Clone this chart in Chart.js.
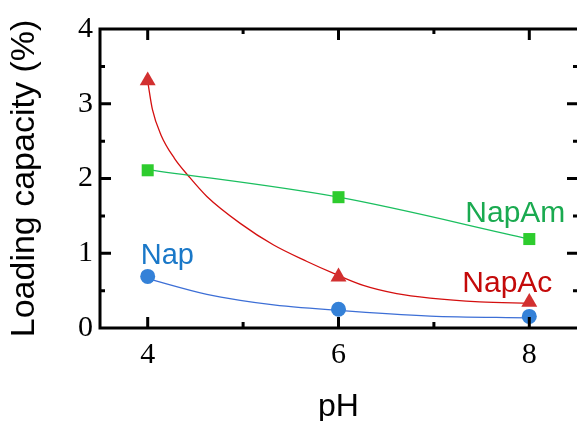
<!DOCTYPE html>
<html>
<head>
<meta charset="utf-8">
<script src="https://cdn.jsdelivr.net/npm/chart.js@4"></script>
<style>
  html, body { margin: 0; padding: 0; background: #ffffff; }
  #wrap { width: 577px; height: 421px; }
</style>
</head>
<body>
<div id="wrap"><canvas id="chart" width="577" height="421"></canvas></div>
<script>
// measured points (pH 4, 6, 8)
const phValues = [4, 6, 8];
const napValues = [0.69, 0.25, 0.155];
const napAmValues = [2.11, 1.75, 1.19];
const napAcValues = [3.31, 0.685, 0.345];

// fitted curves
const napFitX = [4.0, 4.62, 4.97, 5.32, 6.0, 6.96, 8.0];
const napFitY = [0.66, 0.45, 0.37, 0.31, 0.235, 0.16, 0.135];
const napAmFitX = [4, 6, 8];
const napAmFitY = [2.12, 1.75, 1.19];
const napAcFitX = [4.0, 4.05, 4.14, 4.28, 4.43, 4.62, 4.97, 5.32, 5.67, 5.95, 6.26, 6.61, 6.96, 7.48, 8.0];
const napAcFitY = [3.30, 2.92, 2.58, 2.27, 2.03, 1.76, 1.40, 1.11, 0.89, 0.73, 0.57, 0.46, 0.40, 0.35, 0.33];

// ticks
const xTicks = [4, 6, 8];
const xMinorTicks = [5, 7];
const yTicks = [0, 1, 2, 3, 4];
const yMinorTicks = [0.5, 1.5, 2.5, 3.5];

const pts = (xs, ys) => xs.map((x, i) => ({ x: x, y: ys[i] }));

// 让绘图区延伸到画布右边缘 (右框线被裁掉)
const stretchPlugin = {
    id: 'stretchRight',
    afterLayout(chart) {
        const a = chart.chartArea;
        const xs = chart.scales.x;
        a.right = chart.width;
        a.width = a.right - a.left;
        xs.right = a.right;
        xs.width = xs.right - xs.left;
        xs.configure();
    }
};

// 框线和向内的刻度
const framePlugin = {
    id: 'frame',
    afterDraw(chart) {
        const ctx = chart.ctx;
        const a = chart.chartArea;
        const xs = chart.scales.x;
        const ys = chart.scales.y;
        ctx.save();
        ctx.strokeStyle = '#000';
        ctx.lineWidth = 3;
        ctx.lineCap = 'butt';
        ctx.beginPath();
        ctx.moveTo(a.left, a.bottom);
        ctx.lineTo(a.left, a.top);
        ctx.moveTo(a.left - 1.5, a.top);
        ctx.lineTo(a.right + 3, a.top);
        ctx.moveTo(a.left - 1.5, a.bottom);
        ctx.lineTo(a.right + 3, a.bottom);
        ctx.moveTo(a.right + 1.5, a.top);
        ctx.lineTo(a.right + 1.5, a.bottom);
        // x ticks
        xTicks.forEach(v => {
            const p = xs.getPixelForValue(v);
            ctx.moveTo(p, a.bottom); ctx.lineTo(p, a.bottom - 11);
            ctx.moveTo(p, a.top); ctx.lineTo(p, a.top + 11);
        });
        xMinorTicks.forEach(v => {
            const p = xs.getPixelForValue(v);
            ctx.moveTo(p, a.bottom); ctx.lineTo(p, a.bottom - 6);
            ctx.moveTo(p, a.top); ctx.lineTo(p, a.top + 5);
        });
        // y ticks
        yTicks.forEach(v => {
            const p = ys.getPixelForValue(v);
            ctx.moveTo(a.left, p); ctx.lineTo(a.left + 11, p);
            ctx.moveTo(a.right, p); ctx.lineTo(a.right - 10, p);
        });
        yMinorTicks.forEach(v => {
            const p = ys.getPixelForValue(v);
            ctx.moveTo(a.left, p); ctx.lineTo(a.left + 5, p);
            ctx.moveTo(a.right, p); ctx.lineTo(a.right - 4, p);
        });
        ctx.stroke();
        ctx.restore();
    }
};

// 曲线标签
const labelPlugin = {
    id: 'seriesLabels',
    afterDatasetsDraw(chart) {
        const ctx = chart.ctx;
        const xs = chart.scales.x;
        const ys = chart.scales.y;
        ctx.save();
        ctx.textBaseline = 'alphabetic';
        ctx.textAlign = 'left';
        ctx.font = '29px "Liberation Sans", Arial, sans-serif';
        ctx.fillStyle = '#1a78c8';
        ctx.fillText('Nap', xs.getPixelForValue(4) - 7, ys.getPixelForValue(napValues[0]) - 12);
        ctx.font = '30px "Liberation Sans", Arial, sans-serif';
        ctx.fillStyle = '#1aaa50';
        ctx.fillText('NapAm', xs.getPixelForValue(8) - 64, ys.getPixelForValue(napAmValues[2]) - 17);
        ctx.fillStyle = '#c40a0a';
        ctx.fillText('NapAc', xs.getPixelForValue(8) - 67, ys.getPixelForValue(napAcValues[2]) - 10);
        ctx.restore();
    }
};

const fitLine = (data, color) => ({
    data: data,
    showLine: true,
    borderColor: color,
    borderWidth: 1.3,
    pointRadius: 0,
    cubicInterpolationMode: 'monotone',
    fill: false,
    order: 2
});

const markers = (data, color, style, radius) => ({
    data: data,
    showLine: false,
    pointStyle: style,
    pointRadius: radius,
    pointBackgroundColor: color,
    pointBorderColor: color,
    pointBorderWidth: 0,
    order: 0
});

new Chart(document.getElementById('chart'), {
    type: 'scatter',
    data: {
        datasets: [
            fitLine(pts(napFitX, napFitY), '#3d6fd6'),
            fitLine(pts(napAmFitX, napAmFitY), '#1bbf5f'),
            fitLine(pts(napAcFitX, napAcFitY), '#d40f0f'),
            markers(pts(phValues, napValues), '#3481d8', 'circle', 7.5),
            markers(pts(phValues, napAmValues), '#2ecc2e', 'rect', 8.5),
            markers(pts(phValues, napAcValues), '#d23030', 'triangle', 9.2)
        ]
    },
    options: {
        responsive: false,
        animation: false,
        layout: { padding: { top: 29, right: 0, left: 0, bottom: 0 } },
        plugins: {
            legend: { display: false },
            tooltip: { enabled: false }
        },
        scales: {
            x: {
                type: 'linear',
                min: 3.5,
                max: 8.5,
                afterBuildTicks: s => { s.ticks = xTicks.map(v => ({ value: v })); },
                afterFit: s => { s.height = 93; s.paddingLeft = 0; s.paddingRight = 0; },
                grid: { display: false, drawTicks: false },
                border: { display: false },
                ticks: {
                    color: '#000',
                    padding: 9,
                    maxRotation: 0,
                    font: { family: '"Liberation Serif", "Times New Roman", serif', size: 30 }
                },
                title: {
                    display: true,
                    text: 'pH',
                    color: '#000',
                    padding: { top: 0, bottom: -2 },
                    font: { family: '"Liberation Sans", Arial, sans-serif', size: 32, lineHeight: 1 }
                }
            },
            y: {
                type: 'linear',
                min: 0,
                max: 4,
                afterBuildTicks: s => { s.ticks = yTicks.map(v => ({ value: v })); },
                afterFit: s => { s.width = 100; s.paddingTop = 0; s.paddingBottom = 0; },
                grid: { display: false, drawTicks: false },
                border: { display: false },
                ticks: {
                    color: '#000',
                    padding: 7,
                    font: { family: '"Liberation Serif", "Times New Roman", serif', size: 30 }
                },
                title: {
                    display: true,
                    text: 'Loading capacity (%)',
                    color: '#000',
                    padding: { top: 4, bottom: 0 },
                    font: { family: '"Liberation Sans", Arial, sans-serif', size: 34 }
                }
            }
        }
    },
    plugins: [stretchPlugin, framePlugin, labelPlugin]
});
</script>
</body>
</html>
